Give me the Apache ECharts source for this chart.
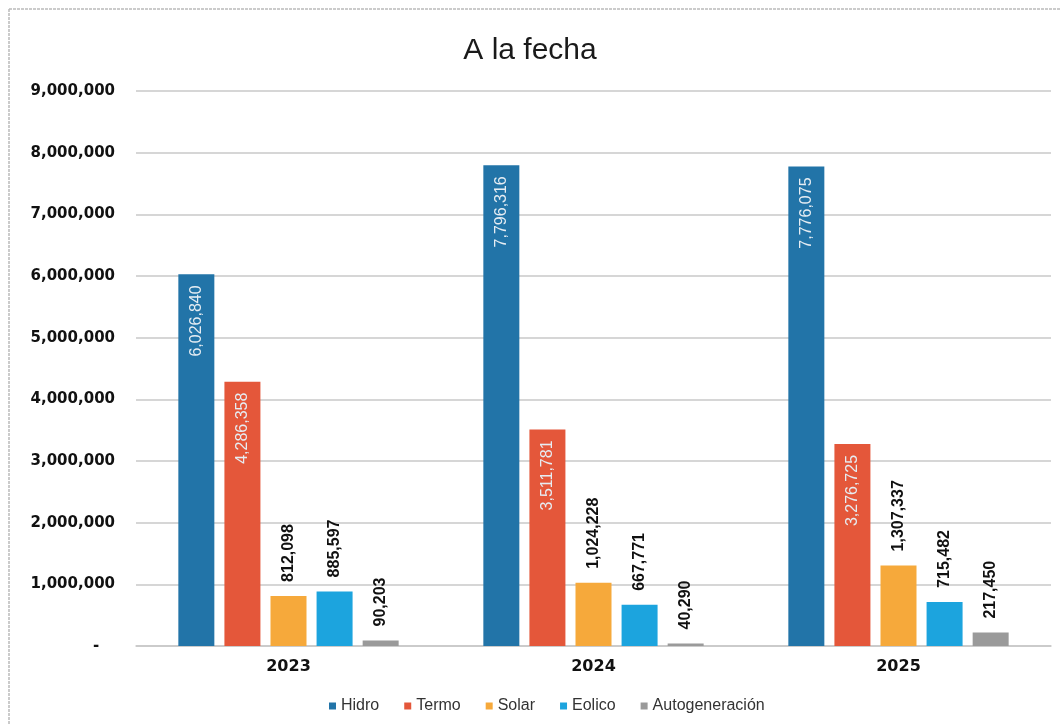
<!DOCTYPE html>
<html>
<head>
<meta charset="utf-8">
<script src="https://cdn.jsdelivr.net/npm/echarts@6/dist/echarts.min.js"></script>
<style>html,body{margin:0;padding:0;background:#fff;}#c{width:1060px;height:725px;}</style>
</head>
<body>
<div id="c"></div>
<script>
const categories = ['2023', '2024', '2025'];
const seriesNames = ['Hidro', 'Termo', 'Solar', 'Eolico', 'Autogeneración'];
const hidro = [6026840, 7796316, 7776075];
const termo = [4286358, 3511781, 3276725];
const solar = [812098, 1024228, 1307337];
const eolico = [885597, 667771, 715482];
const autogeneracion = [90203, 40290, 217450];
const yTicks = [0, 1000000, 2000000, 3000000, 4000000, 5000000, 6000000, 7000000, 8000000, 9000000];

const colors = ['#2274a8', '#e4573a', '#f6a93b', '#1ca4de', '#9a9a9a'];
const values = [hidro, termo, solar, eolico, autogeneracion];
const fmt = v => v.toLocaleString('en-US');

const chart = echarts.init(document.getElementById('c'));
const series = values.map((d, i) => {
  const inside = i < 2;
  return {
    name: seriesNames[i],
    type: 'bar',
    data: d,
    barWidth: 36,
    barGap: '28%',
    itemStyle: { color: colors[i] },
    label: inside ? {
      show: true, position: 'insideTop', distance: 11, rotate: 90,
      align: 'right', verticalAlign: 'middle',
      color: '#e6edf3', fontFamily: 'Liberation Sans', fontSize: 16,
      formatter: p => fmt(p.value)
    } : {
      show: true, position: 'top', distance: 14, rotate: 90,
      align: 'left', verticalAlign: 'middle',
      color: '#111', fontFamily: 'Liberation Sans', fontWeight: 'bold', fontSize: 16,
      formatter: p => fmt(p.value)
    }
  };
});

chart.setOption({
  animation: false,
  backgroundColor: '#fff',
  title: {
    text: 'A la fecha', left: 'center', top: 31,
    textStyle: { fontFamily: 'Liberation Sans', fontSize: 30, fontWeight: 'normal', color: '#1a1a1a' }
  },
  legend: {
    bottom: 6, left: 324, itemWidth: 7, itemHeight: 7, itemGap: 25,
    icon: 'rect',
    textStyle: { fontFamily: 'Liberation Sans', fontSize: 16, color: '#333' },
    data: seriesNames
  },
  grid: { left: 136, right: 9, top: 91, bottom: 79, containLabel: false },
  xAxis: {
    type: 'category', data: categories,
    axisLine: { lineStyle: { color: '#c8c8c8', width: 1.5 } },
    axisTick: { show: false },
    axisLabel: { fontFamily: 'DejaVu Sans', fontWeight: 'bold', fontSize: 16, color: '#111', margin: 13 }
  },
  yAxis: {
    type: 'value', min: yTicks[0], max: yTicks[yTicks.length - 1], interval: yTicks[1] - yTicks[0],
    axisLine: { show: false }, axisTick: { show: false },
    splitLine: { lineStyle: { color: '#c8c8c8', width: 1.5 } },
    axisLabel: {
      fontFamily: 'DejaVu Sans', fontWeight: 'bold', fontSize: 15, color: '#111', margin: 21,
      formatter: v => v === 0 ? '-   ' : fmt(v)
    }
  },
  graphic: [
    { type: 'line', shape: { x1: 9, y1: 9, x2: 1060, y2: 9 }, style: { stroke: '#bbb', lineWidth: 1.5, lineDash: [3, 1] }, silent: true },
    { type: 'line', shape: { x1: 9, y1: 9, x2: 9, y2: 725 }, style: { stroke: '#bbb', lineWidth: 1.5, lineDash: [3, 1] }, silent: true }
  ],
  series: series
});
</script>
</body>
</html>
